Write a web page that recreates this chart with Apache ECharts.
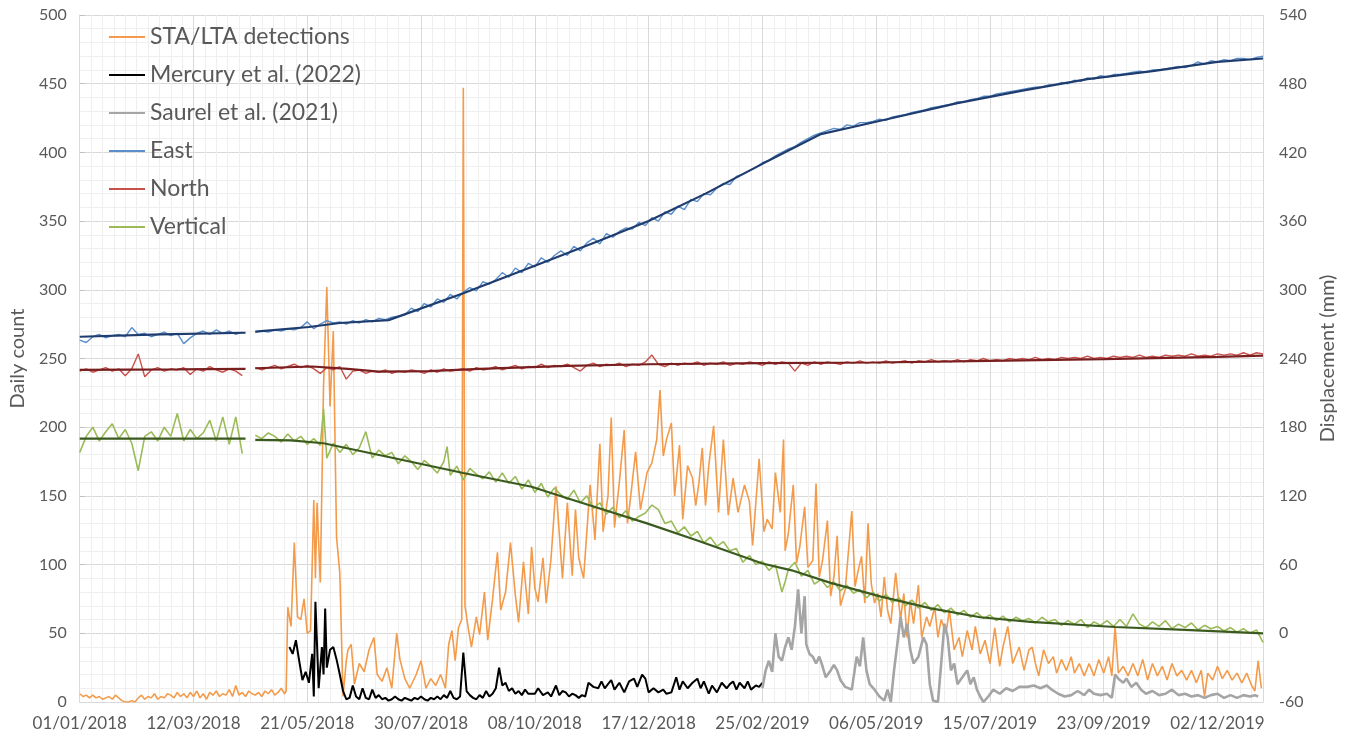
<!DOCTYPE html>
<html>
<head>
<meta charset="utf-8">
<script src="https://cdn.jsdelivr.net/npm/echarts@6/dist/echarts.min.js"></script>
<style>
html,body{margin:0;padding:0;background:#fff;}
#chart{width:1351px;height:736px;}
</style>
</head>
<body>
<div id="chart"></div>
<script>
// Day offsets are counted from 01/01/2018.
const START_DATE = '2018-01-01';
const X_MAX_DAY = 728;
const X_TICK_DAYS = 70;
const X_MINOR_DAYS = 7;

const legendNames = ['STA/LTA detections', 'Mercury et al. (2022)', 'Saurel et al. (2021)', 'East', 'North', 'Vertical'];

// Daily count (left axis): [day, count]
const staLta = [[0,6],[2,4],[4,5],[6,3],[8,5],[10,3],[12,4],[14,2],[16,3],[18,4],[20,2],[22,5],[24,3],[26,1],[28,0],[30,0],[32,1],[34,0],[36,3],[38,5],[40,2],[42,4],[44,3],[46,6],[48,2],[50,4],[52,3],[54,6],[56,5],[58,3],[60,7],[62,4],[64,6],[66,3],[68,7],[70,4],[72,8],[74,3],[76,6],[78,2],[80,7],[82,5],[84,8],[86,4],[88,6],[90,5],[92,9],[94,4],[96,12],[98,5],[100,7],[102,4],[104,8],[106,6],[108,5],[110,7],[112,4],[114,8],[116,6],[118,9],[120,5],[122,7],[124,10],[126,6],[127,8],[128,69],[130,55],[132,116],[134,62],[136,60],[138,75],[140,50],[142,52],[144,147],[145,90],[146,145],[148,87],[150,230],[152,302],[154,215],[156,270],[158,120],[160,94],[162,4],[164,30],[165,38],[167,42],[169,13],[172,28],[175,22],[178,38],[181,47],[183,20],[186,15],[189,25],[192,10],[195,50],[197,31],[200,17],[203,10],[207,20],[210,30],[213,10],[216,17],[219,12],[222,20],[225,10],[227,42],[229,52],[231,30],[233,54],[235,60],[236,447],[237,70],[239,54],[241,40],[244,62],[246,49],[249,80],[251,45],[254,75],[257,109],[259,67],[262,80],[265,116],[268,78],[270,58],[273,102],[276,64],[278,113],[280,83],[282,73],[285,105],[287,72],[290,105],[293,157],[297,90],[300,145],[303,92],[305,140],[307,105],[310,90],[314,158],[317,118],[320,188],[322,124],[325,150],[327,207],[329,127],[332,160],[335,198],[337,130],[339,150],[342,182],[345,140],[349,167],[352,174],[355,191],[357,227],[359,179],[361,191],[364,203],[366,150],[369,187],[371,133],[374,172],[377,163],[379,143],[381,160],[383,185],[385,143],[387,172],[390,201],[393,138],[396,191],[399,136],[402,163],[405,138],[409,158],[412,146],[414,114],[418,177],[421,124],[423,133],[426,126],[428,167],[431,138],[433,191],[434,110],[436,123],[439,158],[441,101],[443,113],[446,142],[448,98],[451,103],[453,159],[455,91],[457,103],[460,132],[462,77],[464,91],[466,121],[468,70],[471,82],[475,139],[477,84],[479,96],[481,106],[483,72],[485,130],[487,86],[489,72],[491,79],[493,62],[495,91],[497,67],[499,57],[502,94],[505,60],[507,79],[509,47],[511,74],[513,57],[516,85],[518,47],[521,62],[523,55],[526,69],[528,47],[530,60],[533,50],[535,67],[538,38],[541,47],[543,33],[546,52],[549,38],[551,55],[554,35],[557,45],[560,28],[563,54],[566,26],[568,40],[571,55],[574,28],[578,40],[581,23],[584,38],[586,40],[588,28],[590,19],[593,38],[596,28],[599,33],[601,21],[604,31],[607,23],[610,33],[612,21],[615,28],[618,19],[621,28],[624,19],[627,31],[630,21],[633,33],[635,19],[637,55],[639,21],[642,26],[645,19],[648,28],[651,19],[654,31],[657,16],[660,28],[663,19],[666,26],[669,16],[672,28],[675,19],[678,23],[681,16],[684,23],[687,14],[690,23],[692,4],[694,21],[697,16],[700,26],[703,17],[706,23],[709,16],[712,21],[715,14],[718,21],[721,12],[723,8],[725,30],[727,10]];

const mercury = [[129,40],[131,35],[133,45],[135,30],[137,16],[139,22],[141,14],[143,35],[144,4],[145,73],[147,10],[149,40],[150,20],[151,68],[152,25],[154,38],[156,40],[158,31],[160,20],[162,8],[164,2],[166,3],[168,12],[170,4],[172,2],[174,10],[176,3],[178,2],[180,9],[182,3],[184,5],[186,2],[188,3],[190,1],[192,2],[194,4],[196,2],[198,1],[200,3],[202,2],[204,1],[206,3],[208,2],[210,4],[212,2],[214,1],[216,3],[218,2],[220,4],[222,2],[224,5],[226,3],[228,8],[230,3],[232,2],[234,4],[236,36],[238,8],[240,5],[242,3],[244,2],[246,5],[248,3],[250,8],[252,4],[254,6],[256,10],[258,25],[260,12],[262,14],[264,8],[266,10],[268,6],[270,8],[272,5],[274,9],[276,6],[278,6],[280,6],[282,10],[285,5],[288,7],[290,4],[293,12],[295,5],[297,8],[299,7],[301,4],[303,6],[305,5],[307,3],[309,5],[311,4],[313,14],[316,11],[319,10],[321,15],[323,10],[325,13],[327,16],[329,9],[332,14],[335,7],[338,15],[341,17],[343,11],[346,20],[348,17],[350,7],[353,10],[356,7],[359,9],[361,6],[364,7],[367,18],[369,9],[371,15],[374,10],[377,14],[380,17],[382,10],[384,15],[387,6],[389,12],[392,7],[395,14],[398,10],[400,13],[402,15],[404,9],[406,14],[409,10],[411,15],[413,9],[416,12],[418,11],[420,14]];

const saurel = [[420,10],[422,23],[424,30],[426,22],[428,50],[430,33],[432,30],[434,40],[436,47],[438,38],[440,55],[442,82],[444,50],[446,77],[447,42],[449,35],[451,33],[453,28],[455,33],[457,26],[459,18],[462,23],[464,27],[466,23],[468,16],[471,11],[475,9],[478,33],[480,26],[482,47],[484,23],[486,13],[489,9],[492,4],[495,1],[497,9],[499,0],[501,23],[503,42],[505,62],[507,47],[509,57],[511,38],[513,28],[516,33],[519,47],[521,42],[523,13],[525,1],[528,0],[530,28],[532,57],[534,47],[536,23],[538,28],[540,13],[543,18],[546,23],[548,13],[550,18],[552,9],[554,4],[556,0],[559,4],[562,9],[566,6],[570,10],[574,8],[578,11],[583,11],[587,12],[591,10],[595,12],[598,9],[602,6],[606,4],[610,5],[614,8],[618,5],[621,9],[624,6],[628,5],[632,6],[635,3],[637,20],[639,17],[642,14],[644,17],[647,11],[650,14],[653,9],[656,6],[660,8],[664,5],[668,6],[672,9],[676,5],[680,6],[684,4],[688,5],[692,3],[696,5],[700,6],[704,3],[708,5],[712,3],[716,5],[720,4],[723,5],[725,4]];

// Displacement in mm (right axis): [day, mm]; null = no data
const east = [[0,256],[4,254],[8,259],[12,261],[16,258],[20,260],[24,261],[28,259],[32,267],[36,261],[40,262],[44,259],[48,261],[52,263],[56,260],[60,262],[64,253],[68,258],[72,262],[76,264],[80,261],[84,265],[88,262],[92,264],[96,261],[100,263],[104,null],[108,263],[112,264],[116,263],[120,265],[124,264],[128,266],[132,265],[136,267],[140,272],[144,266],[148,270],[152,273],[156,271],[160,272],[164,270],[168,273],[172,271],[176,274],[180,272],[184,275],[188,274],[192,276],[196,277],[200,278],[204,284],[208,281],[212,288],[216,285],[220,292],[224,289],[228,296],[232,292],[236,298],[240,302],[244,299],[248,307],[252,305],[256,309],[260,315],[264,311],[268,319],[272,315],[276,323],[280,320],[284,328],[288,324],[292,330],[296,334],[300,330],[304,338],[308,334],[312,341],[316,345],[320,340],[324,349],[328,346],[332,351],[336,354],[340,353],[344,359],[348,356],[352,363],[356,360],[360,368],[364,366],[368,373],[372,370],[376,379],[380,377],[384,384],[388,383],[392,389],[396,393],[400,392],[404,399],[408,401],[412,404],[416,407],[420,411],[424,413],[428,417],[432,420],[436,423],[440,425],[444,429],[448,432],[452,435],[456,437],[460,439],[464,441],[468,440],[472,444],[476,443],[480,446],[484,446],[488,447],[492,449],[496,448],[500,451],[504,452],[508,453],[512,455],[516,456],[520,457],[524,459],[528,460],[532,461],[536,462],[540,464],[544,464],[548,466],[552,467],[556,469],[560,469],[564,471],[568,472],[572,473],[576,474],[580,475],[584,476],[588,477],[592,477],[596,479],[600,479],[604,481],[608,480],[612,483],[616,482],[620,485],[624,484],[628,487],[632,486],[636,488],[640,488],[644,489],[648,490],[652,491],[656,490],[660,492],[664,492],[668,493],[672,494],[676,495],[680,494],[684,496],[688,499],[692,497],[696,500],[700,499],[704,501],[708,500],[712,502],[716,502],[720,501],[724,503],[728,504]];

const north = [[0,229],[4,231],[8,228],[12,230],[16,232],[20,229],[24,231],[28,225],[32,231],[36,244],[40,224],[44,230],[48,232],[52,229],[56,231],[60,230],[64,232],[68,226],[72,231],[76,229],[80,233],[84,230],[88,228],[92,231],[96,229],[100,225],[104,null],[108,232],[112,230],[116,232],[120,234],[124,231],[128,233],[132,235],[136,232],[140,234],[144,231],[148,227],[152,232],[156,230],[160,233],[164,222],[168,229],[172,230],[176,227],[180,229],[184,228],[188,230],[192,227],[196,229],[200,228],[204,230],[208,229],[212,227],[216,230],[220,228],[224,231],[228,229],[232,230],[236,231],[240,229],[244,232],[248,230],[252,231],[256,233],[260,230],[264,232],[268,234],[272,231],[276,233],[280,232],[284,235],[288,232],[292,234],[296,233],[300,235],[304,232],[308,229],[312,234],[316,236],[320,233],[324,235],[328,234],[332,236],[336,233],[340,235],[344,234],[348,237],[352,243],[356,235],[360,233],[364,236],[368,234],[372,236],[376,235],[380,237],[384,234],[388,236],[392,235],[396,237],[400,234],[404,236],[408,235],[412,237],[416,236],[420,234],[424,237],[428,235],[432,237],[436,236],[440,229],[444,236],[448,234],[452,237],[456,235],[460,237],[464,236],[468,235],[472,237],[476,236],[480,238],[484,236],[488,237],[492,236],[496,238],[500,236],[504,237],[508,238],[512,236],[516,238],[520,237],[524,239],[528,237],[532,238],[536,237],[540,239],[544,237],[548,239],[552,238],[556,240],[560,238],[564,239],[568,238],[572,240],[576,239],[580,240],[584,239],[588,241],[592,239],[596,240],[600,239],[604,241],[608,240],[612,241],[616,240],[620,242],[624,240],[628,241],[632,240],[636,242],[640,241],[644,242],[648,241],[652,243],[656,241],[660,242],[664,241],[668,243],[672,242],[676,243],[680,242],[684,244],[688,242],[692,243],[696,242],[700,244],[704,243],[708,244],[712,243],[716,245],[720,243],[724,245],[728,244]];

const vertical = [[0,158],[4,172],[8,180],[12,168],[16,176],[20,183],[24,170],[28,178],[32,166],[36,142],[40,172],[44,176],[48,168],[52,180],[56,172],[60,192],[64,168],[68,178],[72,170],[76,175],[80,186],[84,168],[88,189],[92,165],[96,189],[100,157],[104,null],[108,173],[112,170],[116,175],[120,172],[124,167],[128,174],[132,168],[136,172],[140,165],[144,170],[148,164],[150,196],[152,153],[156,166],[160,158],[164,165],[168,156],[172,162],[176,176],[180,153],[184,160],[188,155],[192,158],[196,148],[200,155],[204,150],[208,143],[212,151],[216,146],[220,140],[224,150],[226,163],[228,138],[232,146],[236,134],[240,144],[244,139],[248,135],[252,141],[256,132],[260,140],[264,131],[268,137],[272,126],[276,134],[280,123],[284,131],[288,119],[292,127],[296,121],[300,117],[304,125],[308,114],[312,120],[316,109],[320,114],[324,104],[328,110],[332,101],[336,107],[340,98],[344,102],[348,105],[352,112],[356,108],[360,96],[364,98],[368,88],[372,93],[376,85],[380,89],[384,79],[388,84],[392,76],[396,80],[400,72],[404,74],[408,62],[412,68],[416,60],[420,63],[424,55],[428,60],[432,36],[434,45],[436,56],[440,62],[444,50],[448,55],[452,43],[456,47],[460,40],[464,45],[468,37],[472,42],[476,35],[480,38],[484,31],[488,36],[492,28],[496,34],[500,27],[504,31],[508,24],[512,29],[516,22],[520,27],[524,20],[528,25],[532,18],[536,22],[540,16],[544,20],[548,14],[552,18],[556,13],[560,16],[564,11],[568,15],[572,10],[576,14],[580,11],[584,13],[588,9],[592,14],[596,10],[600,12],[604,7],[608,11],[612,8],[616,12],[620,5],[624,10],[628,7],[632,11],[636,6],[640,12],[644,6],[648,17],[652,8],[656,5],[660,10],[664,6],[668,11],[672,4],[676,8],[680,5],[684,9],[688,3],[692,7],[696,4],[700,6],[704,2],[708,5],[712,1],[716,4],[720,0],[724,3],[728,-8]];

// Fitted model curves (mm)
const eastModel = [[0,259],[50,261],[102,262.5],[104,null],[108,263.5],[141,267.5],[160,271],[190,273.5],[236,297],[280,321],[320,343],[350,360],[385,384],[420,410],[456,436],[475,442],[500,450],[540,463],[580,474],[620,484],[660,491],[700,499],[728,502]];
const northModel = [[0,230],[60,230.5],[102,231],[104,null],[108,231.5],[143,233],[165,231],[184,228.5],[215,229],[246,231],[300,233.5],[350,235],[420,236],[490,236.5],[560,238],[630,239.5],[700,241.5],[728,242.5]];
const verticalModel = [[0,170],[102,170],[104,null],[108,169],[130,168.5],[150,166],[190,154],[236,140],[278,128],[300,118],[320,109],[349,96],[380,81],[400,71],[420,61],[438,55],[462,44],[493,32],[523,22],[554,14],[585,10],[637,5.5],[680,3],[728,0]];

const FONT = 'Lato, "Liberation Sans", sans-serif';
const TXT = '#595959';

function fmtDate(v) {
  if (v % X_TICK_DAYS !== 0) return '';
  const d = new Date(Date.parse(START_DATE + 'T00:00:00Z') + v * 86400000);
  const dd = String(d.getUTCDate()).padStart(2, '0');
  const mm = String(d.getUTCMonth() + 1).padStart(2, '0');
  return dd + '/' + mm + '/' + d.getUTCFullYear();
}
const prep = arr => arr.map(p => [p[0], p[1] === null ? '-' : p[1]]);

function line(name, data, color, width, yIdx) {
  return {
    name: name, type: 'line', data: prep(data), yAxisIndex: yIdx, xAxisIndex: 0,
    showSymbol: false, symbol: 'none', connectNulls: false, color: color,
    lineStyle: { color: color, width: width }, emphasis: { disabled: true },
    silent: true
  };
}

const chart = echarts.init(document.getElementById('chart'), null, { renderer: 'canvas' });
chart.setOption({
  animation: false,
  backgroundColor: '#ffffff',
  textStyle: { fontFamily: FONT },
  grid: { left: 77, right: 88, top: 15, bottom: 34, containLabel: false },
  legend: {
    data: legendNames, orient: 'vertical', left: 104, top: 19,
    icon: 'rect', itemWidth: 36, itemHeight: 2, itemGap: 12,
    textStyle: { fontSize: 23, color: TXT, fontFamily: FONT, lineHeight: 26 },
    selectedMode: false
  },
  xAxis: [
    {
      type: 'value', min: 0, max: X_MAX_DAY, interval: X_TICK_DAYS, position: 'bottom', z: 1,
      axisLine: { show: true, lineStyle: { color: '#d9d9d9' } },
      axisTick: { show: false },
      axisLabel: { formatter: fmtDate, fontSize: 17, color: TXT, margin: 13, fontFamily: FONT, showMaxLabel: false },
      splitLine: { show: true, lineStyle: { color: '#d9d9d9', width: 1 } }
    },
    {
      type: 'value', min: 0, max: X_MAX_DAY, interval: X_MINOR_DAYS, position: 'top', z: 0,
      axisLine: { show: false }, axisTick: { show: false }, axisLabel: { show: false },
      splitLine: { show: true, lineStyle: { color: '#efefef', width: 1 } }
    }
  ],
  yAxis: [
    {
      type: 'value', min: 0, max: 500, interval: 50, position: 'left',
      name: 'Daily count', nameLocation: 'middle', nameRotate: 90, nameGap: 48,
      nameTextStyle: { fontSize: 20, color: TXT, fontFamily: FONT },
      axisLine: { show: false }, axisTick: { show: false },
      axisLabel: { fontSize: 16, color: TXT, margin: 13, fontFamily: FONT },
      splitLine: { show: true, lineStyle: { color: '#d9d9d9' } },
      minorTick: { show: false, splitNumber: 5 },
      minorSplitLine: { show: true, lineStyle: { color: '#efefef' } }
    },
    {
      type: 'value', min: -60, max: 540, interval: 60, position: 'right',
      name: 'Displacement (mm)', nameLocation: 'middle', nameRotate: 90, nameGap: 52,
      nameTextStyle: { fontSize: 20, color: TXT, fontFamily: FONT },
      axisLine: { show: true, lineStyle: { color: '#d9d9d9' } },
      axisTick: { show: true, inside: false, length: 5, lineStyle: { color: '#bfbfbf' } },
      axisLabel: { fontSize: 16, color: TXT, margin: 16, fontFamily: FONT },
      splitLine: { show: false }
    }
  ],
  series: [
    line(legendNames[0], staLta, '#F39B4A', 1.6, 0),
    line(legendNames[1], mercury, '#000000', 2, 0),
    line(legendNames[2], saurel, '#A5A5A5', 2.6, 0),
    line(legendNames[3], east, '#5B8FCB', 1.4, 1),
    line(legendNames[4], north, '#C8504B', 1.4, 1),
    line(legendNames[5], vertical, '#9BBB59', 1.6, 1),
    line('East model', eastModel, '#1F3C6E', 2.2, 1),
    line('North model', northModel, '#7A1F1F', 2.2, 1),
    line('Vertical model', verticalModel, '#3B5A1F', 2.2, 1)
  ]
});
</script>
</body>
</html>
